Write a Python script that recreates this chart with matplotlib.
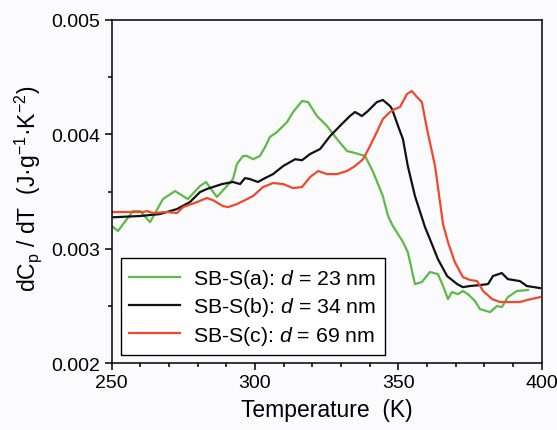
import numpy as np
import matplotlib
matplotlib.use("Agg")
import matplotlib.pyplot as plt
from matplotlib.ticker import FixedLocator, FormatStrFormatter

# =========================
# FONTS
# =========================
plt.rcParams['font.family'] = ['Liberation Sans', 'DejaVu Sans']
plt.rcParams['mathtext.fontset'] = 'custom'
plt.rcParams['mathtext.rm'] = 'Liberation Sans'
plt.rcParams['mathtext.it'] = 'Liberation Sans:italic'

# =========================
# DATA (dCp/dT in units of 1e-3 J g^-1 K^-2)
# =========================
temp_a = [250.5, 252.2, 257.4, 259.9, 263.4, 267.9, 272.1, 276.6, 280.8, 282.9,
          286.7, 290.2, 292.3, 293.7, 295.8, 297.2, 299.3, 301.7, 303.5, 305.2,
          307.7, 311.2, 313.3, 316.4, 318.5, 321.6, 325.1, 328.6, 332.1, 334.9,
          338.4, 341.2, 344.6, 346.4, 348.1, 351.6, 353.3, 355.8, 358.2, 361.0,
          363.8, 365.6, 367.3, 368.7, 370.8, 372.5, 374.3, 376.7, 378.5, 382.0,
          384.4, 386.1, 388.2, 391.3, 395.2]
cp_a = [3.190, 3.155, 3.329, 3.329, 3.233, 3.434, 3.504, 3.434, 3.548, 3.583,
        3.452, 3.548, 3.609, 3.740, 3.810, 3.810, 3.782, 3.810, 3.888, 3.976,
        4.020, 4.107, 4.194, 4.290, 4.281, 4.159, 4.072, 3.958, 3.853, 3.836,
        3.810, 3.670, 3.460, 3.286, 3.198, 3.059, 2.971, 2.692, 2.709, 2.797,
        2.779, 2.675, 2.561, 2.622, 2.604, 2.631, 2.604, 2.544, 2.473, 2.447,
        2.500, 2.491, 2.578, 2.631, 2.640]

temp_b = [250.5, 259.9, 266.8, 272.8, 277.3, 280.8, 283.2, 288.5, 292.3, 294.8,
          296.5, 298.2, 301.0, 303.5, 306.3, 309.8, 314.0, 316.4, 319.2, 322.7,
          326.2, 329.6, 333.1, 334.9, 337.3, 339.4, 342.5, 344.6, 347.1, 347.8,
          349.9, 351.6, 353.3, 355.8, 359.3, 361.0, 363.8, 367.0, 370.5, 372.5,
          375.0, 378.5, 381.3, 383.0, 386.1, 388.2, 392.4, 394.8, 399.4]
cp_b = [3.275, 3.286, 3.303, 3.347, 3.408, 3.495, 3.522, 3.565, 3.583, 3.565,
        3.617, 3.609, 3.583, 3.617, 3.652, 3.722, 3.782, 3.773, 3.827, 3.871,
        3.984, 4.072, 4.159, 4.194, 4.159, 4.203, 4.281, 4.299, 4.246, 4.220,
        4.072, 3.958, 3.722, 3.460, 3.189, 3.085, 2.910, 2.762, 2.692, 2.665,
        2.675, 2.683, 2.692, 2.762, 2.788, 2.735, 2.718, 2.675, 2.657]

temp_c = [250.5, 260.9, 262.3, 264.4, 269.3, 272.8, 274.9, 279.8, 283.2, 285.3,
          288.8, 290.6, 293.7, 296.5, 299.3, 302.8, 306.3, 309.8, 313.3, 316.4,
          319.2, 322.0, 325.1, 328.6, 332.1, 334.9, 337.7, 340.1, 342.5, 344.6,
          347.1, 348.8, 350.6, 353.0, 354.7, 356.5, 358.2, 360.0, 362.8, 365.6,
          367.3, 369.7, 372.5, 375.0, 377.5, 379.6, 382.7, 385.5, 389.0, 392.4,
          394.8, 399.4]
cp_c = [3.321, 3.321, 3.329, 3.312, 3.321, 3.312, 3.364, 3.408, 3.443, 3.425,
        3.373, 3.364, 3.390, 3.425, 3.460, 3.539, 3.574, 3.565, 3.530, 3.539,
        3.626, 3.679, 3.652, 3.652, 3.679, 3.722, 3.782, 3.897, 4.019, 4.133,
        4.194, 4.220, 4.238, 4.351, 4.377, 4.325, 4.281, 4.046, 3.722, 3.214,
        3.059, 2.884, 2.753, 2.727, 2.718, 2.631, 2.561, 2.535, 2.535, 2.535,
        2.552, 2.578]

labels = [r"SB-S(a): $d$ = 23 nm", r"SB-S(b): $d$ = 34 nm", r"SB-S(c): $d$ = 69 nm"]
colors = ["#5cba48", "#111111", "#f2472b"]

# =========================
# PLOT
# =========================
fig = plt.figure(figsize=(5.57, 4.31), dpi=100)
fig.patch.set_facecolor("#fbfbfd")
ax = fig.add_axes([0.2005, 0.1547, 0.772, 0.7973])
ax.set_facecolor("#fbfbfd")

for t, v, lab, col in zip([temp_a, temp_b, temp_c], [cp_a, cp_b, cp_c], labels, colors):
    ax.plot(t, np.array(v) * 1e-3, color=col, lw=1.6, label=lab)

ax.set_xlim(250, 400)
ax.set_ylim(0.002, 0.005)

ax.xaxis.set_major_locator(FixedLocator([250, 300, 350, 400]))
ax.xaxis.set_minor_locator(FixedLocator(np.arange(250, 401, 10)))
ax.yaxis.set_major_locator(FixedLocator([0.002, 0.003, 0.004, 0.005]))
ax.yaxis.set_minor_locator(FixedLocator([0.0025, 0.0035, 0.0045]))
ax.yaxis.set_major_formatter(FormatStrFormatter("%.3f"))

ax.tick_params(which="both", direction="out", width=1.1, labelsize=14, top=False, right=False)
ax.tick_params(which="major", length=5, pad=3)
ax.tick_params(which="minor", length=3)
for s in ax.spines.values():
    s.set_linewidth(1.1)

ax.set_xlabel("Temperature  (K)", fontsize=16.5, labelpad=5)
ax.set_ylabel(r"dC$_\mathregular{p}$ / dT  (J·g$^{-1}$·K$^{-2}$)", fontsize=16.5)
ax.yaxis.set_label_coords(-0.158, 0.51)

leg = ax.legend(loc="lower left", bbox_to_anchor=(0.0216, 0.024), borderaxespad=0,
                fontsize=15.3, frameon=True, fancybox=False, handlelength=2.4,
                handletextpad=0.6, labelspacing=0.25, borderpad=0.4)
leg.get_frame().set_edgecolor("black")
leg.get_frame().set_linewidth(1.0)
leg.get_frame().set_facecolor("white")
leg.get_frame().set_alpha(1)

fig.savefig("out.png", dpi=100, facecolor=fig.get_facecolor())
